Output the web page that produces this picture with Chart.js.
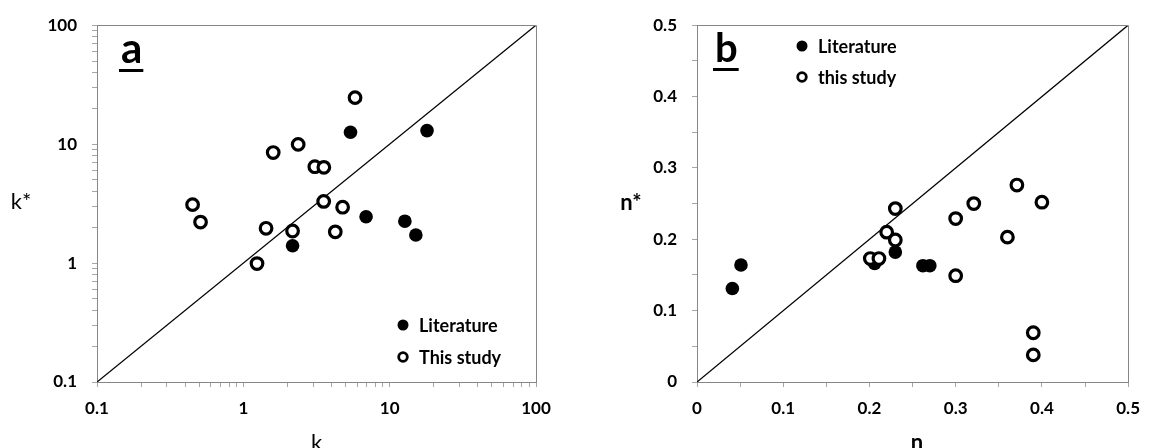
<!DOCTYPE html>
<html>
<head>
<meta charset="utf-8">
<script src="https://cdn.jsdelivr.net/npm/chart.js@4.4.1/dist/chart.umd.min.js"></script>
<style>
  html, body { margin: 0; padding: 0; background: #fff; }
  #wrap { position: relative; width: 1151px; height: 448px; overflow: hidden; }
  canvas { position: absolute; top: 0; }
  #ca { left: 0; }
  #cb { left: 575px; }
</style>
</head>
<body>
<div id="wrap">
  <canvas id="ca" width="575" height="448"></canvas>
  <canvas id="cb" width="576" height="448"></canvas>
</div>
<script>
// panel a : k vs k* (log-log)
const kLitX   = [5.4, 18.0, 6.9, 12.7, 15.1, 2.17];
const kLitY   = [12.6, 13.0, 2.45, 2.25, 1.72, 1.40];
const kStudyX = [5.8, 2.37, 1.60, 3.08, 3.55, 0.45, 0.51, 3.54, 4.77, 1.43, 2.17, 4.25, 1.24];
const kStudyY = [24.6, 9.95, 8.5, 6.46, 6.38, 3.10, 2.21, 3.30, 2.95, 1.96, 1.86, 1.83, 0.99];
const kTicks  = [0.1, 1, 10, 100];

// panel b : n vs n*
const nLitX   = [0.041, 0.051, 0.206, 0.230, 0.262, 0.270];
const nLitY   = [0.131, 0.164, 0.166, 0.182, 0.163, 0.163];
const nStudyX = [0.230, 0.220, 0.230, 0.201, 0.211, 0.300, 0.321, 0.371, 0.400, 0.360, 0.300, 0.390, 0.390];
const nStudyY = [0.243, 0.210, 0.199, 0.173, 0.173, 0.229, 0.250, 0.276, 0.252, 0.203, 0.149, 0.069, 0.038];
const nTicks  = [0, 0.1, 0.2, 0.3, 0.4, 0.5];

const GRAY = '#868686';
const TICK = '#a6a6a6';
const FONT = 'Lato';

const pts = (xs, ys) => xs.map((x, i) => ({ x, y: ys[i] }));

// 1..9 per decade, labels only on the powers of ten
function logTicks(major) {
  const out = [];
  for (let i = 0; i < major.length - 1; i++) {
    for (let m = 1; m <= 9; m++) out.push({ value: Number((m * major[i]).toPrecision(3)) });
  }
  out.push({ value: major[major.length - 1] });
  return out;
}

const extras = {
  id: 'extras',
  afterDraw(chart, args, o) {
    const { ctx, chartArea: a } = chart;
    ctx.save();
    // top + right frame
    ctx.strokeStyle = GRAY; ctx.lineWidth = 1;
    ctx.beginPath();
    ctx.moveTo(Math.round(a.left), Math.round(a.top) + 0.5);
    ctx.lineTo(Math.round(a.right) + 0.5, Math.round(a.top) + 0.5);
    ctx.lineTo(Math.round(a.right) + 0.5, Math.round(a.bottom));
    ctx.stroke();

    ctx.fillStyle = '#000';
    // panel letter, underlined
    ctx.font = 'bold ' + o.letter.size + 'px ' + FONT;
    ctx.textAlign = 'left'; ctx.textBaseline = 'alphabetic';
    ctx.fillText(o.letter.text, o.letter.x, o.letter.y);
    const w = ctx.measureText(o.letter.text).width;
    ctx.fillRect(o.letter.x - 2, o.letter.y + 6, w + 3, 3);

    // axis titles
    ctx.textAlign = 'center';
    ctx.font = (o.bold ? 'bold ' : '') + '22px ' + FONT;
    ctx.textBaseline = 'middle';
    ctx.fillText(o.yTitle.text, o.yTitle.x, o.yTitle.y);
    ctx.textBaseline = 'alphabetic';
    ctx.fillText(o.xTitle.text, o.xTitle.x, o.xTitle.y);

    // legend
    ctx.textAlign = 'left'; ctx.textBaseline = 'middle';
    ctx.font = 'bold 18px ' + FONT;
    o.legend.forEach((it, i) => {
      const ds = chart.data.datasets[i];
      ctx.beginPath();
      if (it.filled) {
        ctx.arc(it.x, it.y, 5.5, 0, Math.PI * 2);
        ctx.fillStyle = '#000'; ctx.fill();
      } else {
        ctx.arc(it.x, it.y, 4.3, 0, Math.PI * 2);
        ctx.fillStyle = '#fff'; ctx.fill();
        ctx.lineWidth = 2.8; ctx.strokeStyle = '#000'; ctx.stroke();
      }
      ctx.fillStyle = '#000';
      ctx.fillText(ds.label, it.x + 16, it.y + 1);
    });
    ctx.restore();
  }
};

function axis(extra, fitter, labelFn, pad) {
  return Object.assign({
    border: { color: GRAY, width: 1 },
    grid: { drawOnChartArea: false, color: TICK, tickLength: 5 },
    ticks: {
      autoSkip: false, maxRotation: 0, color: '#000', padding: pad,
      font: { family: FONT, weight: 'bold', size: 17 },
      callback: labelFn
    },
    afterFit: fitter
  }, extra);
}

function datasets(litX, litY, stX, stY, lineEnds, studyLabel) {
  return [
    { label: 'Literature', data: pts(litX, litY), order: 1,
      pointRadius: 6.8, backgroundColor: '#000', borderColor: '#000', borderWidth: 0 },
    { label: studyLabel, data: pts(stX, stY), order: 0,
      pointRadius: 5.8, backgroundColor: '#fff', borderColor: '#000', borderWidth: 3.2 },
    { label: '1:1', data: pts(lineEnds, lineEnds), order: 2, showLine: true,
      pointRadius: 0, borderColor: '#000', borderWidth: 1.3 }
  ];
}

// ---- panel a
const kLabel = v => kTicks.includes(v) ? String(v) : '';
const xa = axis({ type: 'logarithmic', min: 0.1, max: 100 }, s => { s.height = 66; }, kLabel, 11);
xa.afterBuildTicks = s => { s.ticks = logTicks(kTicks); };
const ya = axis({ type: 'logarithmic', min: 0.1, max: 100 }, s => { s.width = 97; }, kLabel, 15);
ya.afterBuildTicks = s => { s.ticks = logTicks(kTicks); };

new Chart(document.getElementById('ca'), {
  type: 'scatter',
  data: { datasets: datasets(kLitX, kLitY, kStudyX, kStudyY, [0.1, 100], 'This study') },
  options: {
    responsive: false, animation: false, events: [],
    layout: { padding: { left: 0, right: 39, top: 20, bottom: 0 } },
    scales: { x: xa, y: ya },
    plugins: {
      legend: { display: false }, tooltip: { enabled: false },
      extras: {
        letter: { text: 'a', x: 121, y: 63, size: 42 },
        bold: false,
        yTitle: { text: 'k*', x: 21, y: 202 },
        xTitle: { text: 'k', x: 316.5, y: 450 },
        legend: [{ x: 403, y: 325, filled: true }, { x: 403, y: 357, filled: false }]
      }
    }
  },
  plugins: [extras]
});

// ---- panel b
const nLabel = v => {
  const t = Math.round(v * 100) / 100;
  return nTicks.some(n => Math.abs(n - t) < 1e-9) ? (t === 0 ? '0' : t.toFixed(1)) : '';
};
const xb = axis({ type: 'linear', min: 0, max: 0.5 }, s => { s.height = 66; }, nLabel, 11);
xb.ticks.stepSize = 0.05;
const yb = axis({ type: 'linear', min: 0, max: 0.5 }, s => { s.width = 122; }, nLabel, 15);
yb.ticks.stepSize = 0.05;

new Chart(document.getElementById('cb'), {
  type: 'scatter',
  data: { datasets: datasets(nLitX, nLitY, nStudyX, nStudyY, [0, 0.5], 'this study') },
  options: {
    responsive: false, animation: false, events: [],
    layout: { padding: { left: 0, right: 14, top: 20, bottom: 0 } },
    scales: { x: xb, y: yb },
    plugins: {
      legend: { display: false }, tooltip: { enabled: false },
      extras: {
        letter: { text: 'b', x: 140, y: 62, size: 40 },
        bold: true,
        yTitle: { text: 'n*', x: 56, y: 203 },
        xTitle: { text: 'n', x: 342, y: 450 },
        legend: [{ x: 227, y: 46, filled: true }, { x: 227, y: 77, filled: false }]
      }
    }
  },
  plugins: [extras]
});
</script>
</body>
</html>
